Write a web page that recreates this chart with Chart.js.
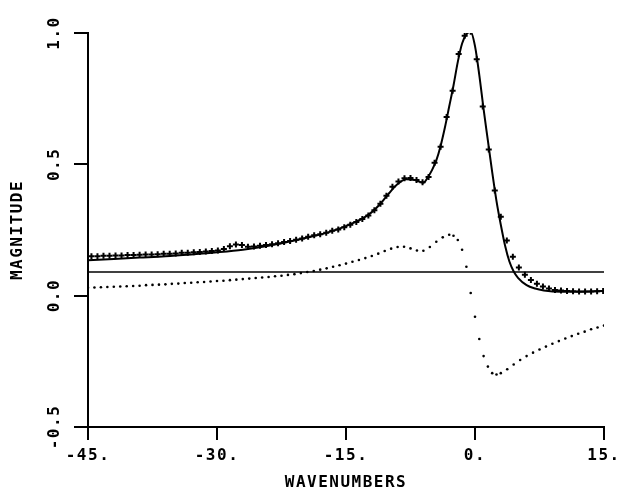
<!DOCTYPE html>
<html>
<head>
<meta charset="utf-8">
<script src="https://cdn.jsdelivr.net/npm/chart.js@4/dist/chart.umd.min.js"></script>
<style>
  html, body { margin: 0; padding: 0; background: #fff; }
  #wrap { width: 620px; height: 492px; }
</style>
</head>
<body>
<div id="wrap"><canvas id="c" width="620" height="492"></canvas></div>
<script>
// Measured magnitude ("+" markers)
const measX = [-44.6, -43.9, -43.2, -42.5, -41.8, -41.1, -40.4, -39.7, -39.0, -38.3,
  -37.6, -36.9, -36.2, -35.5, -34.8, -34.1, -33.4, -32.7, -32.0, -31.3,
  -30.6, -29.9, -29.2, -28.5, -27.8, -27.1, -26.4, -25.7, -25.0, -24.3,
  -23.6, -22.9, -22.2, -21.5, -20.8, -20.1, -19.4, -18.7, -18.0, -17.3,
  -16.6, -15.9, -15.2, -14.5, -13.8, -13.1, -12.4, -11.7, -11.0, -10.3,
  -9.6, -8.9, -8.2, -7.5, -6.8, -6.1, -5.4, -4.7, -4.0, -3.3,
  -2.6, -1.9, -1.2, -0.5, 0.2, 0.9, 1.6, 2.3, 3.0, 3.7,
  4.4, 5.1, 5.8, 6.5, 7.2, 7.9, 8.6, 9.3, 10.0, 10.7,
  11.4, 12.1, 12.8, 13.5, 14.2, 14.9];
const measY = [0.150, 0.150, 0.152, 0.152, 0.153, 0.153, 0.155, 0.155, 0.156, 0.157,
  0.157, 0.158, 0.160, 0.160, 0.161, 0.163, 0.163, 0.165, 0.166, 0.168,
  0.170, 0.172, 0.178, 0.188, 0.195, 0.193, 0.186, 0.187, 0.190, 0.193,
  0.196, 0.200, 0.204, 0.208, 0.213, 0.218, 0.224, 0.230, 0.234, 0.240,
  0.247, 0.252, 0.260, 0.270, 0.280, 0.292, 0.305, 0.325, 0.350, 0.380,
  0.415, 0.435, 0.447, 0.448, 0.440, 0.432, 0.452, 0.506, 0.567, 0.680,
  0.780, 0.920, 0.990, 1.005, 0.900, 0.720, 0.556, 0.400, 0.300, 0.210,
  0.148, 0.107, 0.080, 0.060, 0.045, 0.035, 0.027, 0.022, 0.020, 0.018,
  0.017, 0.016, 0.016, 0.016, 0.017, 0.018];

// Fitted magnitude (solid curve)
const fitX = [-45, -42, -39, -36, -33, -30, -27, -24, -21, -19, -17, -15, -13, -12, -11,
  -10, -9, -8, -7, -6, -5.5, -5, -4.5, -4, -3.5, -3, -2.5, -2, -1.5, -1, -0.5,
  0, 0.5, 1, 1.5, 2, 2.5, 3, 3.5, 4, 4.5, 5, 6, 7, 8, 10, 12, 15];
const fitY = [0.135, 0.140, 0.145, 0.150, 0.157, 0.165, 0.175, 0.190, 0.210, 0.225,
  0.242, 0.265, 0.295, 0.318, 0.350, 0.390, 0.425, 0.443, 0.440, 0.430, 0.450,
  0.478, 0.515, 0.570, 0.640, 0.720, 0.800, 0.890, 0.960, 0.995, 1.005,
  0.950, 0.840, 0.710, 0.590, 0.470, 0.360, 0.270, 0.190, 0.130, 0.092,
  0.068, 0.040, 0.027, 0.020, 0.015, 0.015, 0.018];

// Dotted component
const dotX = [-45, -44.25, -43.5, -42.75, -42, -41.25, -40.5, -39.75, -39, -38.25,
  -37.5, -36.75, -36, -35.25, -34.5, -33.75, -33, -32.25, -31.5, -30.75,
  -30, -29.25, -28.5, -27.75, -27, -26.25, -25.5, -24.75, -24, -23.25,
  -22.5, -21.75, -21, -20.25, -19.5, -18.75, -18, -17.25, -16.5, -15.75,
  -15, -14.25, -13.5, -12.75, -12, -11.25, -10.5, -9.75, -9, -8.25,
  -7.5, -6.75, -6, -5.25, -4.5, -3.75, -3,
  -2.5, -2, -1.5, -1, -0.5, 0, 0.5, 1, 1.5, 2, 2.5, 3,
  3.75, 4.5, 5.25, 6, 6.75, 7.5, 8.25, 9, 9.75, 10.5, 11.25, 12, 12.75, 13.5, 14.25, 15];
const dotY = [0.030, 0.031, 0.032, 0.033, 0.034, 0.035, 0.036, 0.037, 0.038, 0.040,
  0.041, 0.042, 0.043, 0.045, 0.046, 0.048, 0.049, 0.051, 0.052, 0.054,
  0.056, 0.057, 0.059, 0.061, 0.063, 0.065, 0.067, 0.069, 0.071, 0.074,
  0.076, 0.079, 0.082, 0.086, 0.090, 0.094, 0.099, 0.104, 0.110, 0.116,
  0.122, 0.129, 0.136, 0.143, 0.151, 0.160, 0.170, 0.179, 0.185, 0.186,
  0.180, 0.172, 0.171, 0.185, 0.205, 0.222, 0.232,
  0.228, 0.212, 0.175, 0.110, 0.010, -0.080, -0.165, -0.230, -0.270, -0.295, -0.300, -0.295,
  -0.280, -0.262, -0.245, -0.230, -0.217, -0.205, -0.194, -0.183, -0.173, -0.163,
  -0.154, -0.145, -0.137, -0.128, -0.121, -0.114];

// Horizontal reference level
const refX = [-45, 15];
const refY = [0.09, 0.09];

// Axis ticks
const xTicks = [-45, -30, -15, 0, 15];
const yTicks = [-0.5, 0.0, 0.5, 1.0];

const pts = (xs, ys) => xs.map((x, i) => ({ x, y: ys[i] }));
const FONT = "'DejaVu Sans Mono', 'Liberation Mono', monospace";

const letterSpacing = {
  id: 'letterSpacing',
  beforeDraw(chart) { chart.ctx.letterSpacing = '1.5px'; }
};

new Chart(document.getElementById('c'), {
  type: 'scatter',
  data: {
    datasets: [
      {
        data: pts(refX, refY), showLine: true, borderColor: '#000',
        borderWidth: 1.5, pointRadius: 0
      },
      {
        data: pts(dotX, dotY), showLine: false, pointRadius: 1.3,
        pointBackgroundColor: '#000', pointBorderWidth: 0
      },
      {
        data: pts(fitX, fitY), showLine: true, borderColor: '#000',
        borderWidth: 2, pointRadius: 0, cubicInterpolationMode: 'monotone'
      },
      {
        data: pts(measX, measY), showLine: false, pointStyle: 'cross',
        pointRadius: 3, pointBorderColor: '#000', pointBorderWidth: 2
      }
    ]
  },
  options: {
    responsive: false,
    animation: false,
    devicePixelRatio: 1,
    layout: { padding: { left: 0, right: 16, top: 33, bottom: 0 } },
    plugins: { legend: { display: false }, tooltip: { enabled: false } },
    scales: {
      x: {
        type: 'linear', min: -45, max: 15,
        afterBuildTicks: s => { s.ticks = xTicks.map(v => ({ value: v })); },
        afterFit: s => { s.height = 65; s.paddingLeft = 0; s.paddingRight = 0; },
        border: { display: true, color: '#000', width: 2 },
        grid: { drawOnChartArea: false, drawTicks: true, tickLength: 13, color: '#000', lineWidth: 2 },
        ticks: {
          color: '#000', padding: 6, maxRotation: 0, autoSkip: false,
          font: { family: FONT, size: 16, weight: 'bold' },
          callback: v => v + '.'
        },
        title: {
          display: true, text: 'WAVENUMBERS', color: '#000',
          font: { family: FONT, size: 16, weight: 'bold' },
          padding: { top: 0, bottom: 0 }
        }
      },
      y: {
        type: 'linear', min: -0.5, max: 1.0,
        afterBuildTicks: s => { s.ticks = yTicks.map(v => ({ value: v })); },
        afterFit: s => { s.width = 88; s.paddingTop = 0; s.paddingBottom = 0; },
        border: { display: true, color: '#000', width: 2 },
        grid: { drawOnChartArea: false, drawTicks: true, tickLength: 14, color: '#000', lineWidth: 2 },
        ticks: {
          color: '#000', padding: 0, minRotation: 90, maxRotation: 90,
          crossAlign: 'center', autoSkip: false,
          font: { family: FONT, size: 16, weight: 'bold' },
          callback: v => v.toFixed(1)
        },
        title: {
          display: true, text: 'MAGNITUDE', color: '#000',
          font: { family: FONT, size: 16, weight: 'bold' },
          padding: { top: 8, bottom: 0 }
        }
      }
    }
  },
  plugins: [letterSpacing]
});
</script>
</body>
</html>
